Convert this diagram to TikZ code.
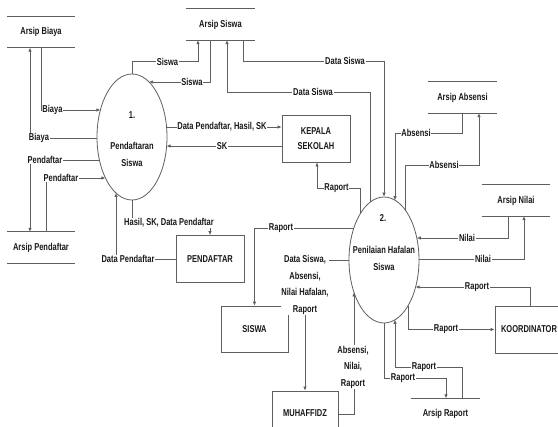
\documentclass[tikz,border=0pt]{standalone}
\usepackage{fontspec}
\setmainfont[FakeStretch=0.75]{Liberation Sans}
\usetikzlibrary{arrows.meta,shapes.geometric,calc}
\definecolor{linegray}{RGB}{95,95,95}
\definecolor{txt}{RGB}{25,25,25}
\begin{document}
\begin{tikzpicture}[x=1pt,y=-1pt,
  ln/.style={draw=linegray, line width=0.75pt},
  arr/.style={ln, -{Latex[length=4pt,width=3.5pt]}},
  lbl/.style={fill=white, inner sep=0.8pt, text=txt, font=\bfseries\fontsize{10}{16.5}\selectfont, align=center},
  ptext/.style={inner sep=0pt, text=txt, font=\bfseries\fontsize{10}{17}\selectfont, align=center},
  ent/.style={draw=linegray, line width=0.8pt, fill=white, minimum width=68pt, minimum height=47pt, inner sep=0pt, text=txt, font=\bfseries\fontsize{10}{15}\selectfont, align=center},
  proc/.style={ellipse, draw=linegray, line width=0.8pt, minimum width=70pt, minimum height=126pt, inner sep=0pt},
  store/.style={minimum width=68pt, minimum height=31pt, inner sep=0pt, text=txt, font=\bfseries\fontsize{10}{12}\selectfont},
  sline/.style={draw=linegray, line width=0.9pt}]
\clip (0,0) rectangle (558,427);
\fill[white] (0,0) rectangle (558,427);

% processes
\node[proc] (p1) at (132,137) {};
\node[proc] (p2) at (384,260) {};
\node[ptext] (p1n) at (132,115) {1.};
\node[ptext] (p1t) at (132,154) {Pendaftaran\\Siswa};
\node[ptext] (p2n) at (383,218) {2.};
\node[ptext] (p2t) at (384,258.5) {Penilaian Hafalan\\Siswa};

% stores
\node[store] (sb) at (41,32) {Arsip Biaya};
\node[store] (ss) at (220.5,24.5) {Arsip Siswa};
\node[store] (sa) at (462.5,97.5) {Arsip Absensi};
\node[store] (sn) at (516,200.5) {Arsip Nilai};
\node[store] (sp) at (41,247.5) {Arsip Pendaftar};
\node[store] (sr) at (445.5,414) {Arsip Raport};
\foreach \s in {sb,ss,sa,sn,sp,sr}{
  \draw[sline] (\s.north west) -- (\s.north east) (\s.south west) -- (\s.south east);
}

% entities
\node[ent] (kep) at (316,138.5) {KEPALA\\SEKOLAH};
\node[ent] (pend) at (210,259) {PENDAFTAR};
\node[ent, minimum width=67pt, minimum height=46pt] (sis) at (254.5,329) {SISWA};
\node[ent, minimum width=66pt, minimum height=46pt] (muh) at (305,414) {};
\node[ptext] (muht) at (305,413) {MUHAFFIDZ};
\node[ent] (koo) at (529,329.5) {KOORDINATOR};

% flows around process 1
\draw[arr] (sb.south) |- ($(p1)+(-31.6,-27)$);
\draw[arr] ($(p1)+(-35,1)$) -| ($(sb.south)+(-11,0)$);
\draw[arr] ($(p1)+(-32.6,23)$) -| ($(sp.north)+(-11,0)$);
\draw[arr] ($(sp.north)+(5,0)$) |- ($(p1)+(-26.6,41)$);
\draw[arr] (p1.north) -- ++(0,-12) -| ($(ss.south)+(-22.5,0)$);
\draw[arr] ($(ss.south)+(-10.5,0)$) |- ($(p1)+(17.1,-55)$);
\draw[arr] ($(p1)+(34.6,-10)$) -- ($(kep.west)+(0,-11.5)$);
\draw[arr] ($(kep.west)+(0,7.5)$) -- ($(p1)+(34.6,9)$);
\draw[arr] (p1.south) -- ++(0,23) -| (pend.north);
\draw[arr] (pend.west) -| ($(p1)+(-16,56)$);

% flows around process 2
\draw[arr] ($(ss.south)+(22.5,0)$) -- ++(0,21) -| (p2.north);
\draw[arr] ($(p2)+(-14,-57.7)$) |- ($(ss.south)+(6.5,52)$) -- ($(ss.south)+(6.5,0)$);
\draw[arr] ($(p2)+(-24,-46)$) |- ($(kep.south)+(1,26)$) -- ($(kep.south)+(1,0)$);
\draw[arr] (sa.south) |- ($(p2)+(11,-127)$) -- ($(p2)+(11,-59.8)$);
\draw[arr] ($(p2)+(21,-50.4)$) |- ($(sa.south)+(16.5,52)$) -- ($(sa.south)+(16.5,0)$);
\draw[arr] ($(sn.south)+(-8,0)$) |- ($(p2)+(32.8,-22)$);
\draw[arr] ($(p2)+(35,-1)$) -| ($(sn.south)+(8,0)$);
\draw[arr] ($(p2)+(-30.1,-32)$) -| (sis.north);
\draw[arr] (p2.west) -| (muh.north);
\draw[arr] (muh.east) -| ($(p2)+(-30,32.4)$);
\draw[arr] ($(koo.north)+(1,0)$) |- ($(p2)+(31.6,27)$);
\draw[arr] ($(p2)+(24,45.9)$) |- (koo.west);
\draw[arr] ($(sr.north)+(16.5,0)$) |- ($(p2)+(11,107)$) -- ($(p2)+(11,59.8)$);
\draw[arr] (p2.south) |- ($(sr.north)+(0.5,-20)$) -- ($(sr.north)+(0.5,0)$);

% labels
\node[lbl] (l1) at (52.5,110) {Biaya};
\node[lbl] (l2) at (39,138) {Biaya};
\node[lbl] (l3) at (45,160) {Pendaftar};
\node[lbl] (l4) at (61,178) {Pendaftar};
\node[lbl] (l5) at (167.5,62) {Siswa};
\node[lbl] (l6) at (192,82) {Siswa};
\node[lbl] (l7) at (222,127) {Data Pendaftar, Hasil, SK};
\node[lbl] (l8) at (222,146) {SK};
\node[lbl] (l9) at (169,223) {Hasil, SK, Data Pendaftar};
\node[lbl] (l10) at (128,259) {Data Pendaftar};
\node[lbl] (l11) at (345,61) {Data Siswa};
\node[lbl] (l12) at (313,92) {Data Siswa};
\node[lbl] (l13) at (336.5,188) {Raport};
\node[lbl] (l14) at (416,133) {Absensi};
\node[lbl] (l15) at (444,165) {Absensi};
\node[lbl] (l16) at (467,238) {Nilai};
\node[lbl] (l17) at (483,259) {Nilai};
\node[lbl] (l18) at (281,228) {Raport};
\node[lbl] (l19) at (305,285) {Data Siswa,\\Absensi,\\Nilai Hafalan,\\Raport};
\node[lbl] (l20) at (353,367) {Absensi,\\Nilai,\\Raport};
\node[lbl] (l21) at (477,287) {Raport};
\node[lbl] (l22) at (446,329) {Raport};
\node[lbl] (l23) at (424,367) {Raport};
\node[lbl] (l24) at (403,378) {Raport};
\end{tikzpicture}
\end{document}
